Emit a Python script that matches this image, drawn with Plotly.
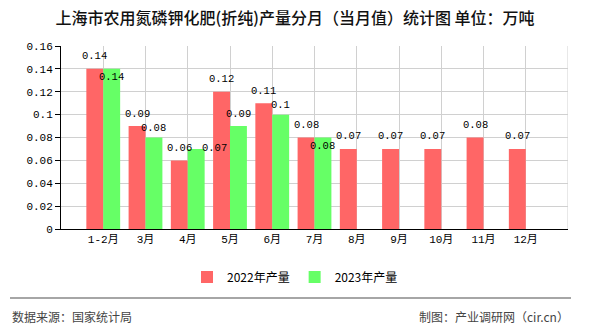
import plotly.graph_objects as go

# ---- data ----
categories = ["1-2月", "3月", "4月", "5月", "6月", "7月", "8月", "9月", "10月", "11月", "12月"]
values_2022 = [0.14, 0.09, 0.06, 0.12, 0.11, 0.08, 0.07, 0.07, 0.07, 0.08, 0.07]
values_2023 = [0.14, 0.08, 0.07, 0.09, 0.10, 0.08]
name_2022 = "2022年产量"
name_2023 = "2023年产量"
title_text = "上海市农用氮磷钾化肥(折纯)产量分月（当月值）统计图 单位：万吨"
source_text = "数据来源：国家统计局"
credit_text = "制图：产业调研网（cir.cn）"
y_max = 0.16
y_step = 0.02

# ---- layout constants (pixels) ----
W, H = 590, 330
L, R, T, B = 61, 22, 46, 101
plot_w = W - L - R
plot_h = H - T - B
ppu = plot_h / y_max  # pixels per value unit

RED = "#FF6666"
GREEN = "#66FF66"
MONO = "Liberation Mono, Noto Sans CJK SC, monospace"
CJK = "Noto Sans CJK SC, sans-serif"

xpos = list(range(1, len(categories) + 1))

fig = go.Figure()
fig.add_trace(go.Bar(x=xpos[:len(values_2022)], y=values_2022, name=name_2022,
                     marker=dict(color=RED, line=dict(width=0)), offset=-0.4, width=0.4,
                     hoverinfo="y"))
fig.add_trace(go.Bar(x=xpos[:len(values_2023)], y=values_2023, name=name_2023,
                     marker=dict(color=GREEN, line=dict(width=0)), offset=0.0, width=0.4,
                     hoverinfo="y"))

annotations = []
RED_SHIFT = 12.5
GREEN_SHIFT = 12.0
MIN_SEP = 14.0
for i, v in enumerate(values_2022):
    annotations.append(dict(x=xpos[i] - 0.2, y=v, xref="x", yref="y", text=f"{v:g}",
                            showarrow=False, yanchor="middle", yshift=RED_SHIFT,
                            font=dict(family=MONO, size=10.5, color="#000")))
for i, v in enumerate(values_2023):
    ysh, xsh = GREEN_SHIFT, 0
    if i < len(values_2022):
        red_px = values_2022[i] * ppu + RED_SHIFT
        grn_px = v * ppu + GREEN_SHIFT
        d = red_px - grn_px
        if abs(values_2022[i] - v) < 1e-9:
            ysh = -8.5
        elif 0 < d < MIN_SEP:
            ysh = red_px - MIN_SEP - v * ppu
        elif -MIN_SEP < d < 0:
            ysh = red_px - v * ppu
            xsh = 18
    annotations.append(dict(x=xpos[i] + 0.2, y=v, xref="x", yref="y", text=f"{v:g}",
                            showarrow=False, yanchor="middle", yshift=ysh, xshift=xsh,
                            font=dict(family=MONO, size=10.5, color="#000")))


def px_to_paper_x(px):
    return (px - L) / plot_w


def px_to_paper_y(py):
    return (H - B - py) / plot_h


# footer texts
annotations.append(dict(x=px_to_paper_x(10), y=px_to_paper_y(316), xref="paper", yref="paper",
                        text=source_text, showarrow=False, xanchor="left", yanchor="middle",
                        font=dict(family=CJK, size=12, color="#444")))
annotations.append(dict(x=px_to_paper_x(571), y=px_to_paper_y(316), xref="paper", yref="paper",
                        text=credit_text, showarrow=False, xanchor="right", yanchor="middle",
                        font=dict(family=CJK, size=12, color="#444")))

shapes = [dict(type="line", xref="paper", yref="paper",
               x0=px_to_paper_x(10), x1=px_to_paper_x(571),
               y0=px_to_paper_y(298), y1=px_to_paper_y(298),
               line=dict(color="#888888", width=1.5))]

fig.update_layout(
    width=W, height=H,
    margin=dict(l=L, r=R, t=T, b=B, pad=0),
    paper_bgcolor="white", plot_bgcolor="white",
    title=dict(text=title_text, x=0.5, xref="container", xanchor="center",
               y=1 - 18 / H, yref="container", yanchor="middle",
               font=dict(family=CJK, size=16, color="#111", weight=500)),
    barmode="overlay",
    showlegend=True,
    legend=dict(orientation="h", xref="container", yref="container",
                x=0.5, xanchor="center", y=1 - 277 / H, yanchor="middle",
                font=dict(family=CJK, size=12, color="#000"),
                itemwidth=30, bgcolor="rgba(0,0,0,0)"),
    annotations=annotations,
    shapes=shapes,
    xaxis=dict(range=[0, len(categories) + 1], tickmode="array", tickvals=xpos,
               ticktext=categories, showgrid=True, gridcolor="#d0d0d0", gridwidth=1,
               showline=True, linecolor="#000", linewidth=1, ticks="", zeroline=False,
               tickfont=dict(family=MONO, size=11, color="#000"), fixedrange=True,
               mirror=False),
    yaxis=dict(range=[0, y_max], dtick=y_step, tick0=0, showgrid=True, gridcolor="#d0d0d0",
               gridwidth=1, showline=True, linecolor="#000", linewidth=1, ticks="outside",
               ticklen=5, tickcolor="#000", zeroline=False,
               tickfont=dict(family=MONO, size=11, color="#000"), fixedrange=True),
)
# right border gridline at x = max
fig.add_shape(type="line", xref="x", yref="paper", x0=len(categories) + 1, x1=len(categories) + 1,
              y0=0, y1=1, line=dict(color="#d0d0d0", width=1), layer="below")

fig.write_html("out.html")
